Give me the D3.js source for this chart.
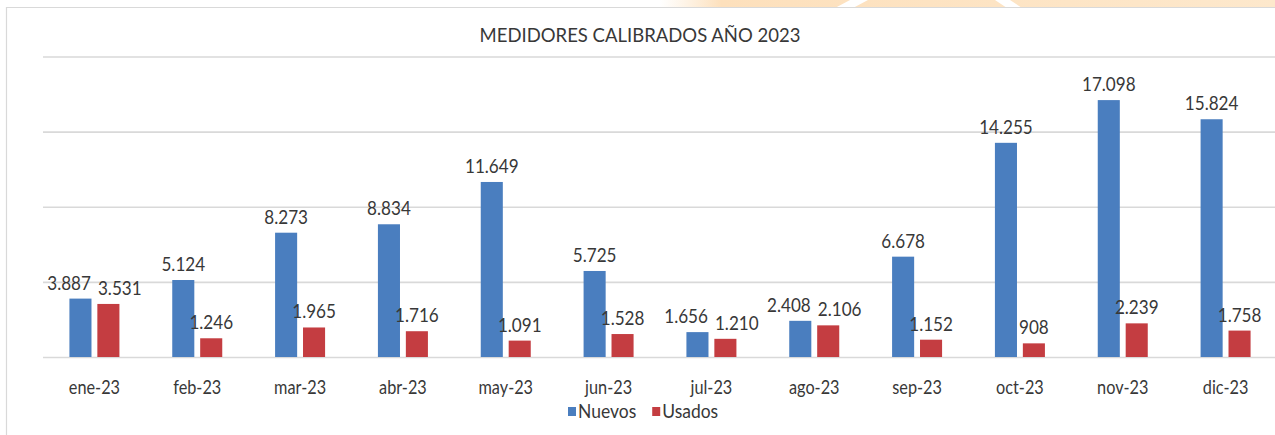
<!DOCTYPE html>
<html>
<head>
<meta charset="utf-8">
<script src="https://cdn.jsdelivr.net/npm/d3@7"></script>
<style>
  html, body { margin: 0; padding: 0; background: #ffffff; }
  svg { display: block; }
  text { font-family: Lato, "Open Sans", sans-serif; fill: #383838; }
</style>
</head>
<body>
<svg id="chart" width="1275" height="435"></svg>
<script>
// ---- data ----
const months = ["ene-23","feb-23","mar-23","abr-23","may-23","jun-23","jul-23","ago-23","sep-23","oct-23","nov-23","dic-23"];
const nuevos = [3887, 5124, 8273, 8834, 11649, 5725, 1656, 2408, 6678, 14255, 17098, 15824];
const usados = [3531, 1246, 1965, 1716, 1091, 1528, 1210, 2106, 1152, 908, 2239, 1758];
const seriesNames = ["Nuevos", "Usados"];
const seriesColors = ["#4a7ebf", "#c43d41"];
const gridTicks = [0, 5000, 10000, 15000, 20000];
const title = "MEDIDORES CALIBRADOS AÑO 2023";

const W = 1275, H = 435;
const svg = d3.select("#chart");

// decorative top strip (background watermark)
const defs = svg.append("defs");
const grad = defs.append("linearGradient").attr("id", "wm").attr("x1", "0").attr("x2", "1");
grad.append("stop").attr("offset", "0").attr("stop-color", "#fde6c8").attr("stop-opacity", 0);
grad.append("stop").attr("offset", "0.1").attr("stop-color", "#fde0bc");
grad.append("stop").attr("offset", "1").attr("stop-color", "#fde8cc");
svg.append("rect").attr("x", 660).attr("y", 0).attr("width", W - 660).attr("height", 8).attr("fill", "url(#wm)");
svg.append("polygon").attr("points", "835,8 853,8 868,0 850,0").attr("fill", "#ffffff");
svg.append("polygon").attr("points", "995,0 1010,0 1022,8 1007,8").attr("fill", "#ffffff");

// chart border
svg.append("path").attr("d", `M6.5,${H} V7.5 H${W}`).attr("fill", "none").attr("stroke", "#d9d9d9").attr("stroke-width", 1.2);

// scales
const x0 = d3.scaleBand().domain(months).range([43, 1277]).paddingInner(0).paddingOuter(0);
const groupW = 50;
const x1 = d3.scaleBand().domain(seriesNames)
  .range([x0.bandwidth() / 2 - groupW / 2, x0.bandwidth() / 2 + groupW / 2])
  .paddingInner(0.21).paddingOuter(0);
const y = d3.scaleLinear().domain([0, 20000]).range([357, 56.5]);

// gridlines via axis
const grid = svg.append("g").attr("transform", "translate(43,0)")
  .call(d3.axisLeft(y).tickValues(gridTicks).tickSize(-(W - 43)).tickFormat(""));
grid.select(".domain").remove();
grid.selectAll(".tick line").attr("stroke", "#d9d9d9").attr("stroke-width", 1.6);

// title
svg.append("text").attr("text-anchor", "middle")
  .attr("transform", "translate(640,42) scale(0.95,1)")
  .attr("font-size", 19.5).text(title);

// data rows
const rows = months.map((m, i) => ({ m, vals: [nuevos[i], usados[i]] }));
const fmt = d3.formatLocale({ decimal: ",", thousands: ".", grouping: [3], currency: ["", ""] }).format(",d");

const groups = svg.append("g").selectAll("g.grp").data(rows).join("g")
  .attr("class", "grp")
  .attr("transform", d => `translate(${x0(d.m)},0)`);

groups.selectAll("rect").data(d => d.vals.map((v, k) => ({ v, k }))).join("rect")
  .attr("x", d => x1(seriesNames[d.k]))
  .attr("y", d => y(d.v))
  .attr("width", x1.bandwidth())
  .attr("height", d => y(0) - y(d.v))
  .attr("fill", d => seriesColors[d.k]);

// data labels with simple overlap avoidance
const labelFont = 19, sx = 0.9;
groups.each(function (d) {
  const g = d3.select(this);
  const labs = d.vals.map((v, k) => {
    const t = g.append("text").attr("text-anchor", "middle").attr("font-size", labelFont).text(fmt(v));
    return { t, v, k, cx: x1(seriesNames[k]) + x1.bandwidth() / 2, by: y(v) - 9, w: t.node().getComputedTextLength() * sx };
  });
  const [a, b] = labs;
  if (Math.abs(a.by - b.by) < labelFont * 0.9) {
    const need = (a.w + b.w) / 2 + 7;
    const have = b.cx - a.cx;
    if (have < need) {
      const s = (need - have) / 2;
      a.cx -= s; b.cx += s;
    }
  }
  labs.forEach(l => l.t.attr("transform", `translate(${l.cx},${l.by}) scale(${sx},1)`));
});

// x axis labels
const xa = svg.append("g").attr("transform", `translate(0,${y(0)})`)
  .call(d3.axisBottom(x0).tickSize(0).tickPadding(24));
xa.select(".domain").remove();
xa.selectAll("text").attr("font-size", 18.5).attr("fill", "#383838")
  .attr("transform", "scale(0.88,1)")
  .style("font-family", "Lato, 'Open Sans', sans-serif");

// legend
const legend = svg.append("g").attr("transform", "translate(568,0)");
let lx = 0;
seriesNames.forEach((name, k) => {
  legend.append("rect").attr("x", lx).attr("y", 407).attr("width", 8).attr("height", 9).attr("fill", seriesColors[k]);
  const t = legend.append("text").attr("transform", `translate(${lx + 10},418) scale(0.92,1)`)
    .attr("font-size", 19).text(name);
  lx += 10 + t.node().getComputedTextLength() * 0.92 + 16;
});
</script>
</body>
</html>
